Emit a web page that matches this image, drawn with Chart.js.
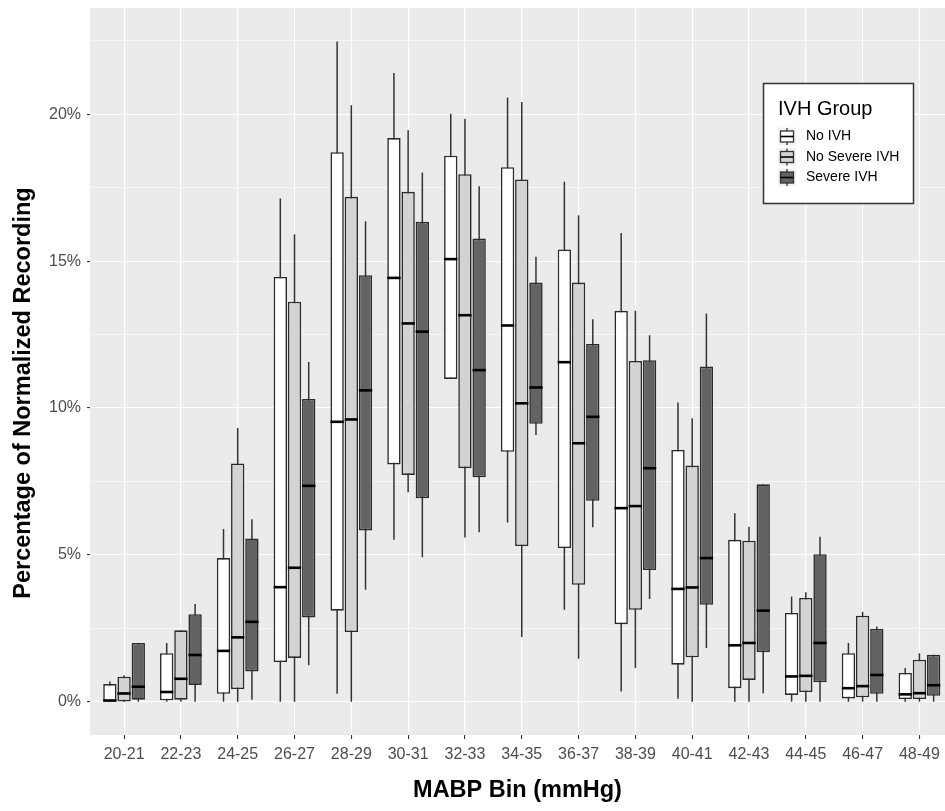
<!DOCTYPE html>
<html>
<head>
<meta charset="utf-8">
<title>MABP Bin boxplot</title>
<script src="https://cdn.jsdelivr.net/npm/chart.js@4.4.1/dist/chart.umd.min.js"></script>
<style>
  html, body { margin: 0; padding: 0; background: #fff; overflow: hidden; }
  canvas { display: block; }
</style>
</head>
<body>
<canvas id="chartjs-0" width="945" height="811"></canvas>
<script>
/* MABP bins (mmHg) */
var bins = ["20-21", "22-23", "24-25", "26-27", "28-29", "30-31", "32-33", "34-35",
  "36-37", "38-39", "40-41", "42-43", "44-45", "46-47", "48-49"];

var groups = ["No IVH", "No Severe IVH", "Severe IVH"];

/* percentage of normalized recording */
/* No IVH */
var noIvhMin = [0, 0, 0, 0, 0.27, 5.51, 10.99, 6.10, 3.13, 0.35, 0.10, 0, 0, 0, 0];
var noIvhQ1 = [0.01, 0.05, 0.27, 1.35, 3.10, 8.08, 10.99, 8.51, 5.23, 2.64, 1.26, 0.46, 0.23, 0.11, 0.09];
var noIvhMed = [0.04, 0.33, 1.73, 3.90, 9.53, 14.43, 15.07, 12.81, 11.56, 6.59, 3.84, 1.92, 0.86, 0.46, 0.25];
var noIvhQ3 = [0.60, 1.65, 4.89, 14.46, 18.71, 19.19, 18.59, 18.20, 15.40, 13.31, 8.57, 5.51, 3.02, 1.65, 0.98];
var noIvhMax = [0.69, 2.00, 5.88, 17.13, 22.48, 21.41, 20.02, 20.57, 17.70, 15.96, 10.19, 6.42, 3.58, 2.00, 1.15];

/* No Severe IVH */
var noSevMin = [0, 0, 0, 0, 0, 7.13, 5.59, 2.20, 1.46, 1.15, 0, 0, 0, 0, 0];
var noSevQ1 = [0.01, 0.07, 0.43, 1.49, 2.37, 7.72, 7.95, 5.30, 3.98, 3.13, 1.51, 0.74, 0.33, 0.15, 0.09];
var noSevMed = [0.28, 0.78, 2.19, 4.56, 9.61, 12.88, 13.16, 10.16, 8.80, 6.66, 3.89, 2.00, 0.88, 0.53, 0.29];
var noSevQ3 = [0.85, 2.43, 8.11, 13.62, 17.19, 17.36, 17.96, 17.78, 14.27, 11.60, 8.04, 5.48, 3.53, 2.93, 1.43];
var noSevMax = [0.90, 2.43, 9.32, 15.92, 20.31, 19.46, 19.85, 20.42, 16.56, 13.31, 9.65, 5.96, 3.73, 3.06, 1.65];

/* Severe IVH */
var sevMin = [0, 0, 0.07, 1.24, 3.81, 4.92, 5.77, 9.08, 5.94, 3.50, 1.83, 0.29, 0, 0, 0];
var sevQ1 = [0.07, 0.57, 1.03, 2.87, 5.83, 6.93, 7.64, 9.46, 6.84, 4.48, 3.30, 1.68, 0.66, 0.27, 0.20];
var sevMed = [0.51, 1.59, 2.72, 7.35, 10.60, 12.60, 11.29, 10.70, 9.70, 7.95, 4.89, 3.10, 2.00, 0.91, 0.56];
var sevQ3 = [2.00, 2.98, 5.56, 10.31, 14.52, 16.34, 15.77, 14.27, 12.18, 11.63, 11.41, 7.40, 5.02, 2.48, 1.60];
var sevMax = [2.00, 3.33, 6.21, 11.57, 16.36, 18.02, 17.55, 15.15, 13.02, 12.48, 13.22, 7.40, 5.62, 2.56, 1.60];

/* y axis ticks (major every 5%, minor in between) */
var yTicks = [0, 2.5, 5, 7.5, 10, 12.5, 15, 17.5, 20, 22.5];

var yTitle = "Percentage of Normalized Recording";

var fills = ["#FFFFFF", "#D3D3D3", "#636363"];
var FONT = '"Liberation Sans", Arial, Helvetica, sans-serif';

var stats = [
  { min: noIvhMin, q1: noIvhQ1, med: noIvhMed, q3: noIvhQ3, max: noIvhMax },
  { min: noSevMin, q1: noSevQ1, med: noSevMed, q3: noSevQ3, max: noSevMax },
  { min: sevMin, q1: sevQ1, med: sevMed, q3: sevQ3, max: sevMax }
];

function boxData(s) {
  var out = [];
  for (var i = 0; i < bins.length; i++) {
    out.push({ x: i, y: [s.q1[i], s.q3[i]] });
  }
  return out;
}

/* grey panel behind the grid, y title a bit below the panel middle like the original */
var panelPlugin = {
  id: "panel",
  beforeDraw: function (chart) {
    var a = chart.chartArea, ctx = chart.ctx;
    ctx.save();
    ctx.fillStyle = "#EBEBEB";
    ctx.fillRect(a.left, a.top, a.right - a.left, a.bottom - a.top);
    ctx.restore();
  },
  afterDraw: function (chart) {
    var ctx = chart.ctx;
    ctx.save();
    ctx.translate(24, 393);
    ctx.rotate(-Math.PI / 2);
    ctx.fillStyle = "#000000";
    ctx.font = "bold 23.5px " + FONT;
    ctx.textAlign = "center";
    ctx.textBaseline = "middle";
    ctx.fillText(yTitle, 0, 0);
    ctx.restore();
  }
};

/* whiskers under the boxes, medians over them */
var boxPlugin = {
  id: "boxParts",
  beforeDatasetsDraw: function (chart) {
    var ctx = chart.ctx, y = chart.scales.y;
    ctx.save();
    ctx.strokeStyle = "#333333";
    ctx.lineWidth = 1.5;
    stats.forEach(function (s, d) {
      var meta = chart.getDatasetMeta(d);
      meta.data.forEach(function (bar, i) {
        ctx.beginPath();
        ctx.moveTo(bar.x, y.getPixelForValue(s.min[i]));
        ctx.lineTo(bar.x, y.getPixelForValue(s.max[i]));
        ctx.stroke();
      });
    });
    ctx.restore();
  },
  afterDatasetsDraw: function (chart) {
    var ctx = chart.ctx, y = chart.scales.y;
    ctx.save();
    ctx.strokeStyle = "#000000";
    ctx.lineWidth = 2.6;
    stats.forEach(function (s, d) {
      var meta = chart.getDatasetMeta(d);
      meta.data.forEach(function (bar, i) {
        var py = y.getPixelForValue(s.med[i]);
        ctx.beginPath();
        ctx.moveTo(bar.x - bar.width / 2, py);
        ctx.lineTo(bar.x + bar.width / 2, py);
        ctx.stroke();
      });
    });
    ctx.restore();
  }
};

/* ggplot style legend box */
var legendPlugin = {
  id: "ivhLegend",
  afterDraw: function (chart) {
    var ctx = chart.ctx;
    ctx.save();
    ctx.fillStyle = "#FFFFFF";
    ctx.fillRect(763, 83, 150, 120);
    ctx.strokeStyle = "#333333";
    ctx.lineWidth = 1.5;
    ctx.strokeRect(763.5, 83.5, 150, 120);
    ctx.fillStyle = "#000000";
    ctx.font = "20px " + FONT;
    ctx.textBaseline = "alphabetic";
    ctx.textAlign = "left";
    ctx.fillText("IVH Group", 778, 114.5);
    groups.forEach(function (g, k) {
      var cy = 136.5 + k * 20.5;
      ctx.fillStyle = "#F2F2F2";
      ctx.fillRect(778, cy - 9, 18, 18);
      ctx.strokeStyle = "#333333";
      ctx.lineWidth = 1.3;
      ctx.beginPath();
      ctx.moveTo(787, cy - 8.5);
      ctx.lineTo(787, cy + 8.5);
      ctx.stroke();
      ctx.fillStyle = fills[k];
      ctx.fillRect(780.5, cy - 5.5, 13, 11);
      ctx.strokeRect(780.5, cy - 5.5, 13, 11);
      ctx.strokeStyle = "#000000";
      ctx.lineWidth = 1.6;
      ctx.beginPath();
      ctx.moveTo(780.5, cy);
      ctx.lineTo(793.5, cy);
      ctx.stroke();
      ctx.fillStyle = "#000000";
      ctx.font = "14px " + FONT;
      ctx.textBaseline = "middle";
      ctx.fillText(g, 806, cy);
    });
    ctx.restore();
  }
};

var ctx = document.getElementById("chartjs-0");

var myChart = new Chart(ctx, {
  type: "bar",
  data: {
    datasets: groups.map(function (g, d) {
      return {
        label: g,
        data: boxData(stats[d]),
        backgroundColor: fills[d],
        borderColor: "#2B2B2B",
        borderWidth: 1.6,
        borderSkipped: false,
        categoryPercentage: 0.75,
        barPercentage: 0.94
      };
    })
  },
  plugins: [panelPlugin, boxPlugin, legendPlugin],
  options: {
    responsive: false,
    animation: false,
    layout: { padding: { top: 8, left: 0, right: 0, bottom: 0 }, autoPadding: false },
    plugins: { legend: { display: false }, tooltip: { enabled: false } },
    scales: {
      x: {
        type: "linear",
        min: -0.6,
        max: 14.45,
        offset: false,
        afterBuildTicks: function (s) {
          s.ticks = bins.map(function (b, i) { return { value: i }; });
        },
        afterFit: function (s) {
          s.height = 76;
          s.paddingLeft = 0;
          s.paddingRight = 0;
        },
        grid: {
          offset: false,
          color: "#FFFFFF",
          lineWidth: 1.1,
          tickColor: "#333333",
          tickLength: 4
        },
        border: { display: false },
        ticks: {
          autoSkip: false,
          maxRotation: 0,
          padding: 6,
          color: "#4D4D4D",
          font: { family: FONT, size: 16 },
          callback: function (v) { return bins[v]; }
        },
        title: {
          display: true,
          text: "MABP Bin (mmHg)",
          color: "#000000",
          font: { family: FONT, size: 23.5, weight: "bold" },
          padding: { top: 0, bottom: 6 }
        }
      },
      y: {
        min: -1.134,
        max: 23.62,
        afterBuildTicks: function (s) {
          s.ticks = yTicks.map(function (v) { return { value: v }; });
        },
        afterFit: function (s) {
          s.width = 90;
          s.paddingTop = 0;
          s.paddingBottom = 0;
        },
        grid: {
          color: "#FFFFFF",
          lineWidth: function (c) { return c.tick && c.tick.value % 5 === 0 ? 1.1 : 0.55; },
          tickColor: function (c) { return c.tick && c.tick.value % 5 === 0 ? "#333333" : "rgba(0,0,0,0)"; },
          tickLength: 3
        },
        border: { display: false },
        ticks: {
          padding: 6,
          color: "#4D4D4D",
          font: { family: FONT, size: 16 },
          callback: function (v) { return v % 5 === 0 ? v + "%" : ""; }
        },
        title: { display: false }
      }
    }
  }
});
</script>
</body>
</html>
